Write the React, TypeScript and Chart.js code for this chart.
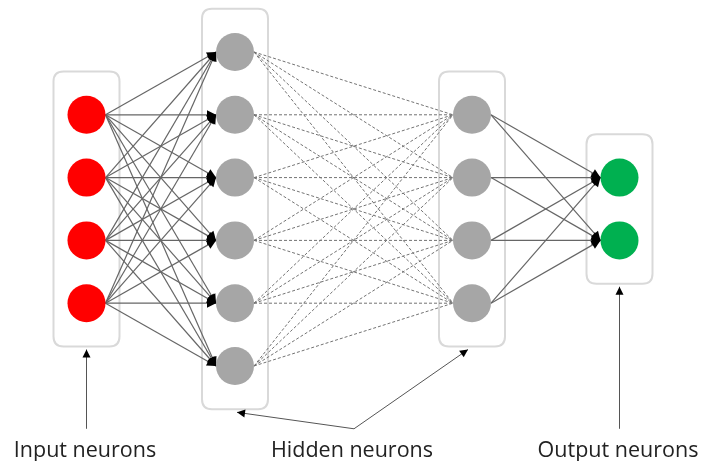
import React, { useEffect, useRef } from "react";
import { Chart, registerables } from "chart.js";

Chart.register(...registerables);

// ---- data ----
const layerNames = ["Input", "Hidden 1", "Hidden 2", "Output"];
const layerSizes = [4, 6, 4, 2];
const layerFirstRow = [1, 0, 1, 2];
const layerX = [86.5, 235, 472, 619.5];
const layerColors = ["#ff0000", "#a6a6a6", "#a6a6a6", "#00b050"];
const linkDashed = [false, true, false];
const captions = ["Input neurons", "Hidden neurons", "Output neurons"];
const captionX = [85, 352, 618];

// ---- layout / style constants ----
const NODE_R = 19;
const BOX_PAD_X = 33;
const BOX_PAD_Y = 0.69;
const Y_MIN = -0.828;
const Y_MAX = 6.513;
const CAPTION_ROW = 6.45;
const POINTER_ROW = 6.0;
const HIDDEN_POINTER_X = 354;

function arrowHead(ctx: CanvasRenderingContext2D, x1: number, y1: number, x2: number, y2: number, len = 8, half = 4) {
  const a = Math.atan2(y2 - y1, x2 - x1);
  ctx.beginPath();
  ctx.moveTo(x2, y2);
  ctx.lineTo(x2 - len * Math.cos(a) + half * Math.sin(a), y2 - len * Math.sin(a) - half * Math.cos(a));
  ctx.lineTo(x2 - len * Math.cos(a) - half * Math.sin(a), y2 - len * Math.sin(a) + half * Math.cos(a));
  ctx.closePath();
  ctx.fillStyle = "#000";
  ctx.fill();
}

function roundRect(ctx: CanvasRenderingContext2D, x: number, y: number, w: number, h: number, r: number) {
  ctx.beginPath();
  ctx.moveTo(x + r, y);
  ctx.lineTo(x + w - r, y);
  ctx.quadraticCurveTo(x + w, y, x + w, y + r);
  ctx.lineTo(x + w, y + h - r);
  ctx.quadraticCurveTo(x + w, y + h, x + w - r, y + h);
  ctx.lineTo(x + r, y + h);
  ctx.quadraticCurveTo(x, y + h, x, y + h - r);
  ctx.lineTo(x, y + r);
  ctx.quadraticCurveTo(x, y, x + r, y);
  ctx.closePath();
}

export default function App() {
  const ref = useRef<HTMLCanvasElement | null>(null);

  useEffect(() => {
    if (!ref.current) return;

    const nodePoints: { x: number; y: number }[] = [];
    const nodeColors: string[] = [];
    layerSizes.forEach((n, l) => {
      for (let i = 0; i < n; i++) {
        nodePoints.push({ x: layerX[l], y: layerFirstRow[l] + i });
        nodeColors.push(layerColors[l]);
      }
    });

    const datasets: any[] = [
      {
        label: "neurons",
        data: nodePoints,
        pointRadius: NODE_R,
        pointHoverRadius: NODE_R,
        pointBackgroundColor: nodeColors,
        pointBorderWidth: 0,
        showLine: false,
        order: 0,
      },
    ];

    for (let l = 0; l < layerSizes.length - 1; l++) {
      for (let i = 0; i < layerSizes[l]; i++) {
        for (let j = 0; j < layerSizes[l + 1]; j++) {
          datasets.push({
            label: `${layerNames[l]}-${i}->${layerNames[l + 1]}-${j}`,
            data: [
              { x: layerX[l] + NODE_R, y: layerFirstRow[l] + i },
              { x: layerX[l + 1] - NODE_R, y: layerFirstRow[l + 1] + j },
            ],
            showLine: true,
            borderColor: linkDashed[l] ? "#737373" : "#666666",
            borderWidth: linkDashed[l] ? 1 : 1.2,
            borderDash: linkDashed[l] ? [3, 2] : [],
            pointRadius: 0,
            pointHoverRadius: 0,
            order: 1,
            arrow: !linkDashed[l],
          });
        }
      }
    }

    const diagramPlugin = {
      id: "diagram",
      beforeDatasetsDraw(chart: any) {
        const ctx = chart.ctx as CanvasRenderingContext2D;
        const xs = chart.scales.x;
        const ys = chart.scales.y;
        ctx.save();
        ctx.strokeStyle = "#d9d9d9";
        ctx.lineWidth = 2;
        layerSizes.forEach((n, l) => {
          const x0 = xs.getPixelForValue(layerX[l] - BOX_PAD_X);
          const x1 = xs.getPixelForValue(layerX[l] + BOX_PAD_X);
          const y0 = ys.getPixelForValue(layerFirstRow[l] - BOX_PAD_Y);
          const y1 = ys.getPixelForValue(layerFirstRow[l] + n - 1 + BOX_PAD_Y);
          roundRect(ctx, x0, y0, x1 - x0, y1 - y0, 10);
          ctx.stroke();
        });
        ctx.restore();
      },
      afterDatasetsDraw(chart: any) {
        const ctx = chart.ctx as CanvasRenderingContext2D;
        const xs = chart.scales.x;
        const ys = chart.scales.y;
        ctx.save();
        chart.data.datasets.forEach((ds: any, k: number) => {
          if (!ds.arrow) return;
          const m = chart.getDatasetMeta(k).data;
          arrowHead(ctx, m[0].x, m[0].y, m[1].x, m[1].y, 9, 4.5);
        });

        // pointer arrows
        const baseY = ys.getPixelForValue(POINTER_ROW);
        const boxBottom = (l: number) => ys.getPixelForValue(layerFirstRow[l] + layerSizes[l] - 1 + BOX_PAD_Y) + 3;
        ctx.strokeStyle = "#555";
        ctx.lineWidth = 1;
        const pointer = (x1: number, y1: number, x2: number, y2: number) => {
          ctx.beginPath();
          ctx.moveTo(x1, y1);
          ctx.lineTo(x2, y2);
          ctx.stroke();
          arrowHead(ctx, x1, y1, x2, y2, 8, 4);
        };
        const xIn = xs.getPixelForValue(layerX[0]);
        pointer(xIn, baseY, xIn, boxBottom(0));
        const xOut = xs.getPixelForValue(layerX[3]);
        pointer(xOut, baseY, xOut, boxBottom(3));
        const xh = xs.getPixelForValue(HIDDEN_POINTER_X);
        pointer(xh, baseY, xs.getPixelForValue(layerX[1] + 2), boxBottom(1));
        pointer(xh, baseY, xs.getPixelForValue(layerX[2] - 4), boxBottom(2));

        // captions
        ctx.fillStyle = "#222222";
        ctx.font = "21.5px 'Open Sans'";
        ctx.textAlign = "center";
        ctx.textBaseline = "alphabetic";
        const cy = ys.getPixelForValue(CAPTION_ROW);
        captions.forEach((t, i) => {
          ctx.fillText(t, xs.getPixelForValue(captionX[i]), cy);
        });
        ctx.restore();
      },
    };

    const chart = new Chart(ref.current, {
      type: "scatter",
      data: { datasets },
      options: {
        animation: false,
        responsive: true,
        maintainAspectRatio: false,
        layout: { padding: 0, autoPadding: false },
        plugins: { legend: { display: false }, tooltip: { enabled: false } },
        events: [],
        scales: {
          x: { type: "linear", min: 0, max: 702, display: false },
          y: { type: "linear", min: Y_MIN, max: Y_MAX, reverse: true, display: false },
        },
      } as any,
      plugins: [diagramPlugin],
    });
    return () => chart.destroy();
  }, []);

  return (
    <div style={{ position: "fixed", left: 0, top: 0, width: 702, height: 461, background: "#fff" }}>
      <canvas ref={ref} />
    </div>
  );
}
